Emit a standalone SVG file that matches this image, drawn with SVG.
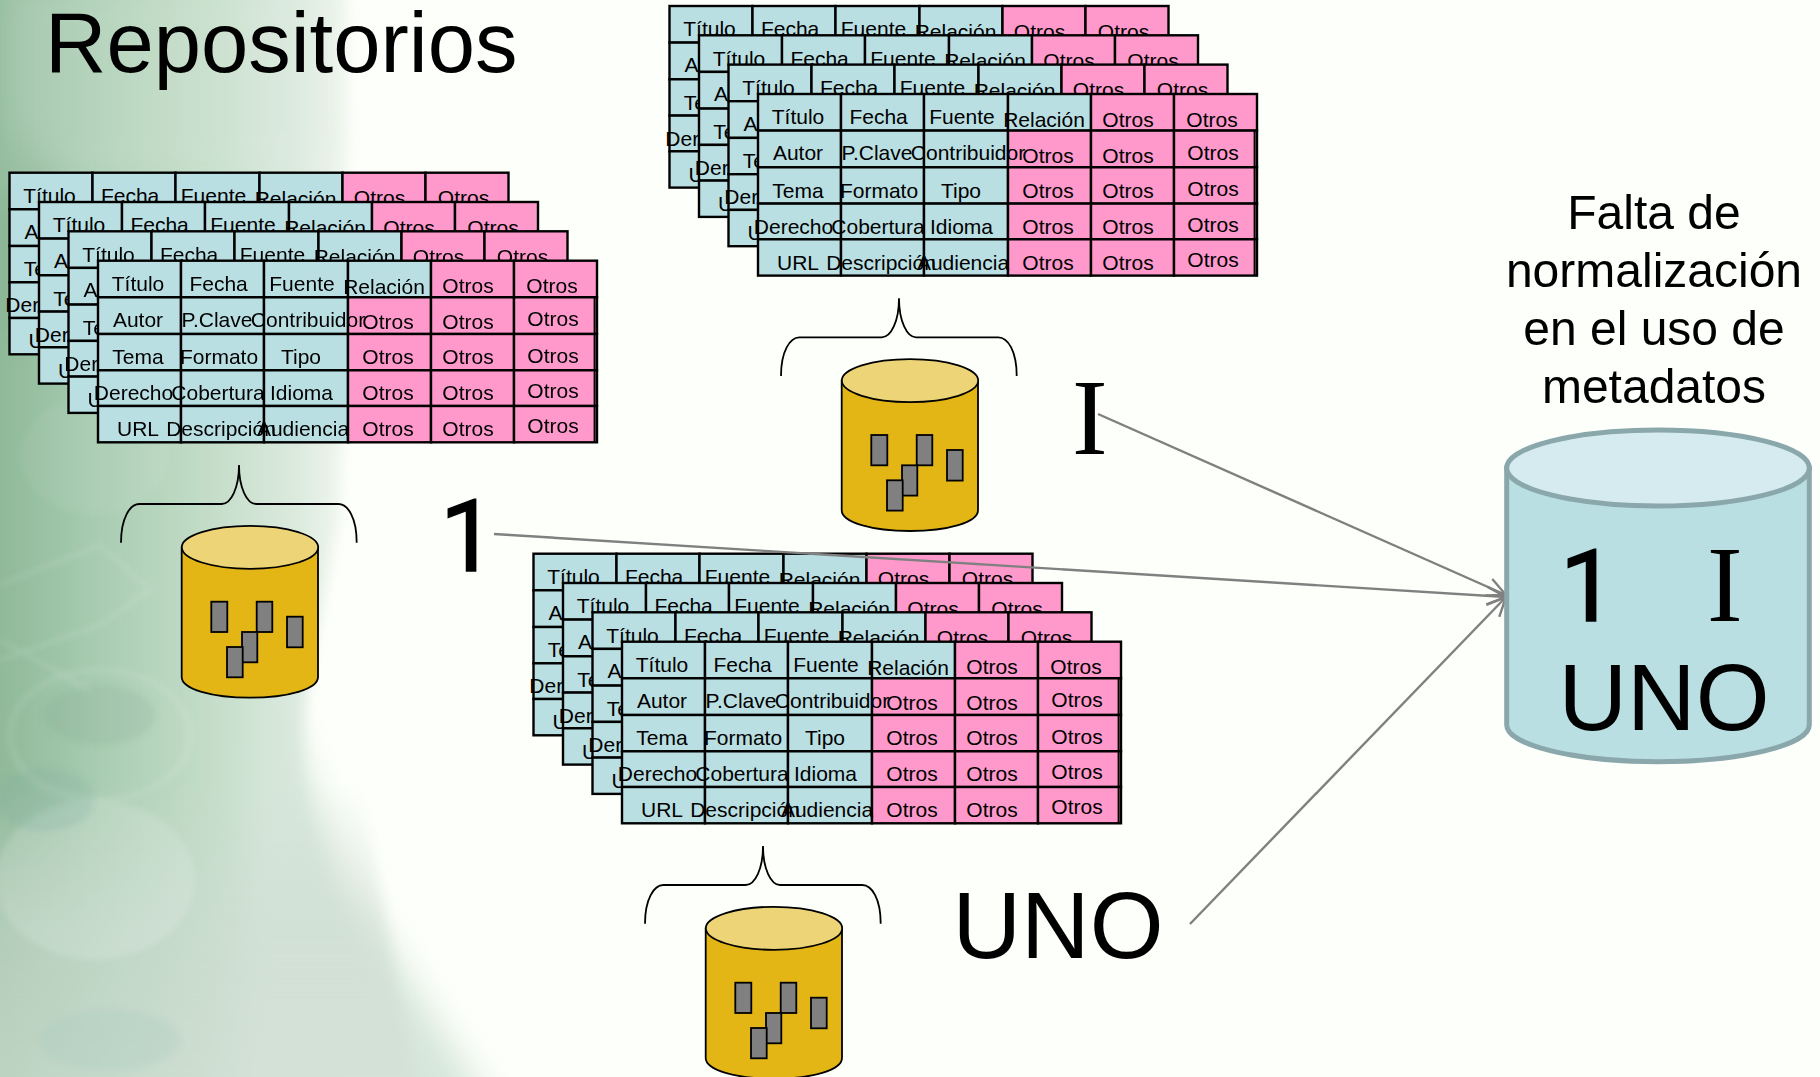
<svg xmlns="http://www.w3.org/2000/svg" xmlns:xlink="http://www.w3.org/1999/xlink" width="1820" height="1077" viewBox="0 0 1820 1077">
<style>
text{font-family:"Liberation Sans",Arial,sans-serif;fill:#000}
.t text{font-size:21px;text-anchor:middle}
.b{fill:#b9dfe3;stroke:#000;stroke-width:2.4}
.p{fill:#ff99cc;stroke:#000;stroke-width:2.4}
.g{fill:#808080;stroke:#000;stroke-width:1.8}
.big{font-size:95px;text-anchor:middle}
.one{font-family:Roboto,"Liberation Sans",sans-serif;font-size:100px;stroke:#000;stroke-width:1.6}
.ser{font-family:"Liberation Serif","Times New Roman",serif;font-size:107px}
.cap{font-size:48px;text-anchor:middle}
.arr{fill:none;stroke:#808080;stroke-width:2.4;marker-end:url(#ah)}
.fx{fill:none;stroke:#fff;stroke-width:4;opacity:.14}
</style>
<defs>
<linearGradient id="bgg" gradientUnits="userSpaceOnUse" x1="0" y1="0" x2="350" y2="0">
<stop offset="0" stop-color="#8fb999"/><stop offset=".28" stop-color="#a8ccb1"/><stop offset=".58" stop-color="#c2dcc7"/><stop offset=".85" stop-color="#dceade"/><stop offset="1" stop-color="#f2f8f1"/>
</linearGradient>
<linearGradient id="bot" x1="0" y1="0" x2="0" y2="1">
<stop offset="0" stop-color="#cfdcd2" stop-opacity="0"/><stop offset=".45" stop-color="#cfdcd2" stop-opacity=".55"/><stop offset="1" stop-color="#d4e0d6" stop-opacity=".7"/>
</linearGradient>
<filter id="bl" x="-30%" y="-10%" width="160%" height="120%"><feGaussianBlur stdDeviation="7"/></filter>
<filter id="bl3" x="-40%" y="-40%" width="180%" height="180%"><feGaussianBlur stdDeviation="18"/></filter>
<filter id="bl2" x="-30%" y="-30%" width="160%" height="160%"><feGaussianBlur stdDeviation="3"/></filter>
<marker id="ah" markerUnits="userSpaceOnUse" markerWidth="26" markerHeight="26" refX="22" refY="12" orient="auto">
<path d="M3 3L22 12L3 21" fill="none" stroke="#808080" stroke-width="2.4"/>
</marker>
<g id="tbl" class="t">
<rect class="b" x="0" y="0" width="83" height="36.6"/><rect class="b" x="83" y="0" width="83" height="36.6"/><rect class="b" x="166" y="0" width="84" height="36.6"/><rect class="b" x="250" y="0" width="83" height="36.6"/>
<rect class="p" x="333" y="0" width="83" height="36.6"/><rect class="p" x="416" y="0" width="83" height="36.6"/>
<rect class="b" x="0" y="36.6" width="83" height="36.7"/><rect class="b" x="83" y="36.6" width="83" height="36.7"/><rect class="b" x="166" y="36.6" width="84" height="36.7"/>
<rect class="p" x="250" y="36.6" width="83" height="36.7"/><rect class="p" x="333" y="36.6" width="83" height="36.7"/><rect class="p" x="416" y="36.6" width="83" height="36.7"/>
<rect class="b" x="0" y="73.3" width="83" height="36.3"/><rect class="b" x="83" y="73.3" width="83" height="36.3"/><rect class="b" x="166" y="73.3" width="84" height="36.3"/>
<rect class="p" x="250" y="73.3" width="83" height="36.3"/><rect class="p" x="333" y="73.3" width="83" height="36.3"/><rect class="p" x="416" y="73.3" width="83" height="36.3"/>
<rect class="b" x="0" y="109.6" width="83" height="35.7"/><rect class="b" x="83" y="109.6" width="83" height="35.7"/><rect class="b" x="166" y="109.6" width="84" height="35.7"/>
<rect class="p" x="250" y="109.6" width="83" height="35.7"/><rect class="p" x="333" y="109.6" width="83" height="35.7"/><rect class="p" x="416" y="109.6" width="83" height="35.7"/>
<rect class="b" x="0" y="145.3" width="83" height="36.3"/><rect class="b" x="83" y="145.3" width="83" height="36.3"/><rect class="b" x="166" y="145.3" width="84" height="36.3"/>
<rect class="p" x="250" y="145.3" width="83" height="36.3"/><rect class="p" x="333" y="145.3" width="83" height="36.3"/><rect class="p" x="416" y="145.3" width="83" height="36.3"/>
<path d="M496.6 36.6V181.6" fill="none" stroke="#000" stroke-width="2"/>
<text x="40" y="30.3">Título</text><text x="120.6" y="30.3">Fecha</text><text x="204" y="30.3">Fuente</text><text x="286" y="33">Relación</text><text x="370" y="32.5">Otros</text><text x="454" y="32.5">Otros</text>
<text x="40" y="66">Autor</text><text x="119" y="66">P.Clave</text><text x="210" y="66">Contribuidor</text><text x="290" y="68.5">Otros</text><text x="370" y="68.5">Otros</text><text x="455" y="65.5">Otros</text>
<text x="40" y="103.5">Tema</text><text x="121" y="103.5">Formato</text><text x="203" y="103.5">Tipo</text><text x="290" y="103.5">Otros</text><text x="370" y="103.5">Otros</text><text x="455" y="102">Otros</text>
<text x="35.5" y="139.5">Derecho</text><text x="120" y="139.5">Cobertura</text><text x="203.5" y="139.5">Idioma</text><text x="290" y="139.5">Otros</text><text x="370" y="139.5">Otros</text><text x="455" y="137.5">Otros</text>
<text x="40" y="175.5">URL</text><text x="123" y="175.5">Descripción</text><text x="205" y="175.5">Audiencia</text><text x="290" y="175.5">Otros</text><text x="370" y="175.5">Otros</text><text x="455" y="172.5">Otros</text>
</g>
<g id="repo">
<use href="#tbl" x="9.5" y="172.7"/><use href="#tbl" x="39" y="202"/><use href="#tbl" x="68.5" y="231.3"/><use href="#tbl" x="98" y="260.7"/>
<path d="M121 542.7C121 518 130 504 139.3 504H221.7C231 504 239 488 239 465C239 488 247 504 256 504H338.3C348 504 356.7 518 356.7 542.7" fill="none" stroke="#000" stroke-width="1.8"/>
<path d="M181.7 547.3V677C181.7 689 212 697.7 250 697.7S318 689 318 677V547.3Z" fill="#e3b616" stroke="#000" stroke-width="1.8"/>
<ellipse cx="250" cy="547.3" rx="68.2" ry="21.5" fill="#edd577" stroke="#000" stroke-width="1.8"/>
<rect class="g" x="211.3" y="601.7" width="16" height="30.3"/><rect class="g" x="256.7" y="601.7" width="15.6" height="30.3"/><rect class="g" x="287" y="616.7" width="15.7" height="30.6"/><rect class="g" x="242" y="632" width="15.3" height="30.3"/><rect class="g" x="227" y="647" width="15.7" height="30.3"/>
</g>
</defs>
<g id="background">
<rect width="1820" height="1077" fill="#fdfffb"/>
<path d="M-40 -40H345C345 150 352 350 338 520C318 640 290 720 310 830C340 920 385 1000 435 1120H-40Z" fill="url(#bgg)" filter="url(#bl)"/>
<path d="M280 700L345 880L500 1120H240Z" fill="#d6e6d9" filter="url(#bl3)"/>
<path d="M-30 780H360L420 1110H-30Z" fill="url(#bot)" filter="url(#bl)"/>
<path d="M0 -20H340V170C230 190 120 170 0 200Z" fill="#e2eee3" opacity=".25" filter="url(#bl3)"/>
<path d="M0 120C60 180 120 230 90 320L0 340Z" fill="#7ba886" opacity=".3" filter="url(#bl3)"/>
<g filter="url(#bl2)">
<path class="fx" d="M0 585L100 545L150 590L100 625L0 660M0 640L90 690"/>
<ellipse cx="95" cy="455" rx="75" ry="60" fill="#fff" opacity=".06"/>
<ellipse cx="100" cy="715" rx="55" ry="30" fill="#7a9e88" opacity=".16"/>
<ellipse cx="95" cy="880" rx="100" ry="80" fill="#fff" opacity=".15"/>
<ellipse cx="100" cy="735" rx="90" ry="65" fill="none" stroke="#fff" stroke-width="5" opacity=".12"/>
<ellipse cx="45" cy="800" rx="50" ry="32" fill="#6f9f9c" opacity=".16"/>
<ellipse cx="110" cy="1040" rx="70" ry="30" fill="#8fc2bd" opacity=".16"/>
</g>
</g>
<g id="repositorio-1"><use href="#repo"/></g>
<g id="repositorio-2"><use href="#repo" x="660" y="-166.7"/></g>
<g id="repositorio-3"><use href="#repo" x="524" y="381"/></g>
<g id="titulo"><text x="45" y="71.5" font-size="85">Repositorios</text></g>
<g id="caption">
<text class="cap" x="1654" y="229">Falta de</text><text class="cap" x="1654" y="287">normalización</text><text class="cap" x="1654" y="345">en el uso de</text><text class="cap" x="1654" y="403">metadatos</text>
</g>
<g id="connectors">
<path class="arr" d="M1098 414L1506 595"/>
<path class="arr" d="M494 534L1506 597"/>
<path class="arr" d="M1190 924L1506 597"/>
</g>
<g id="label-1"><text class="one" x="440" y="571">1</text></g>
<g id="label-i"><text class="ser" x="1072" y="454">I</text></g>
<g id="label-uno"><text class="big" x="1058" y="958">UNO</text></g>
<g id="uno-db">
<path d="M1506.7 468V725C1506.7 745 1575 761.7 1658 761.7S1809.3 745 1809.3 725V468Z" fill="#b9dfe3" stroke="#8aa7ab" stroke-width="5"/>
<ellipse cx="1658" cy="468" rx="151.3" ry="38" fill="#d6ebef" stroke="#8aa7ab" stroke-width="5"/>
<text class="one" x="1560" y="621">1</text>
<text class="ser" x="1707" y="621">I</text>
<text class="big" x="1664" y="730">UNO</text>
</g>
</svg>
